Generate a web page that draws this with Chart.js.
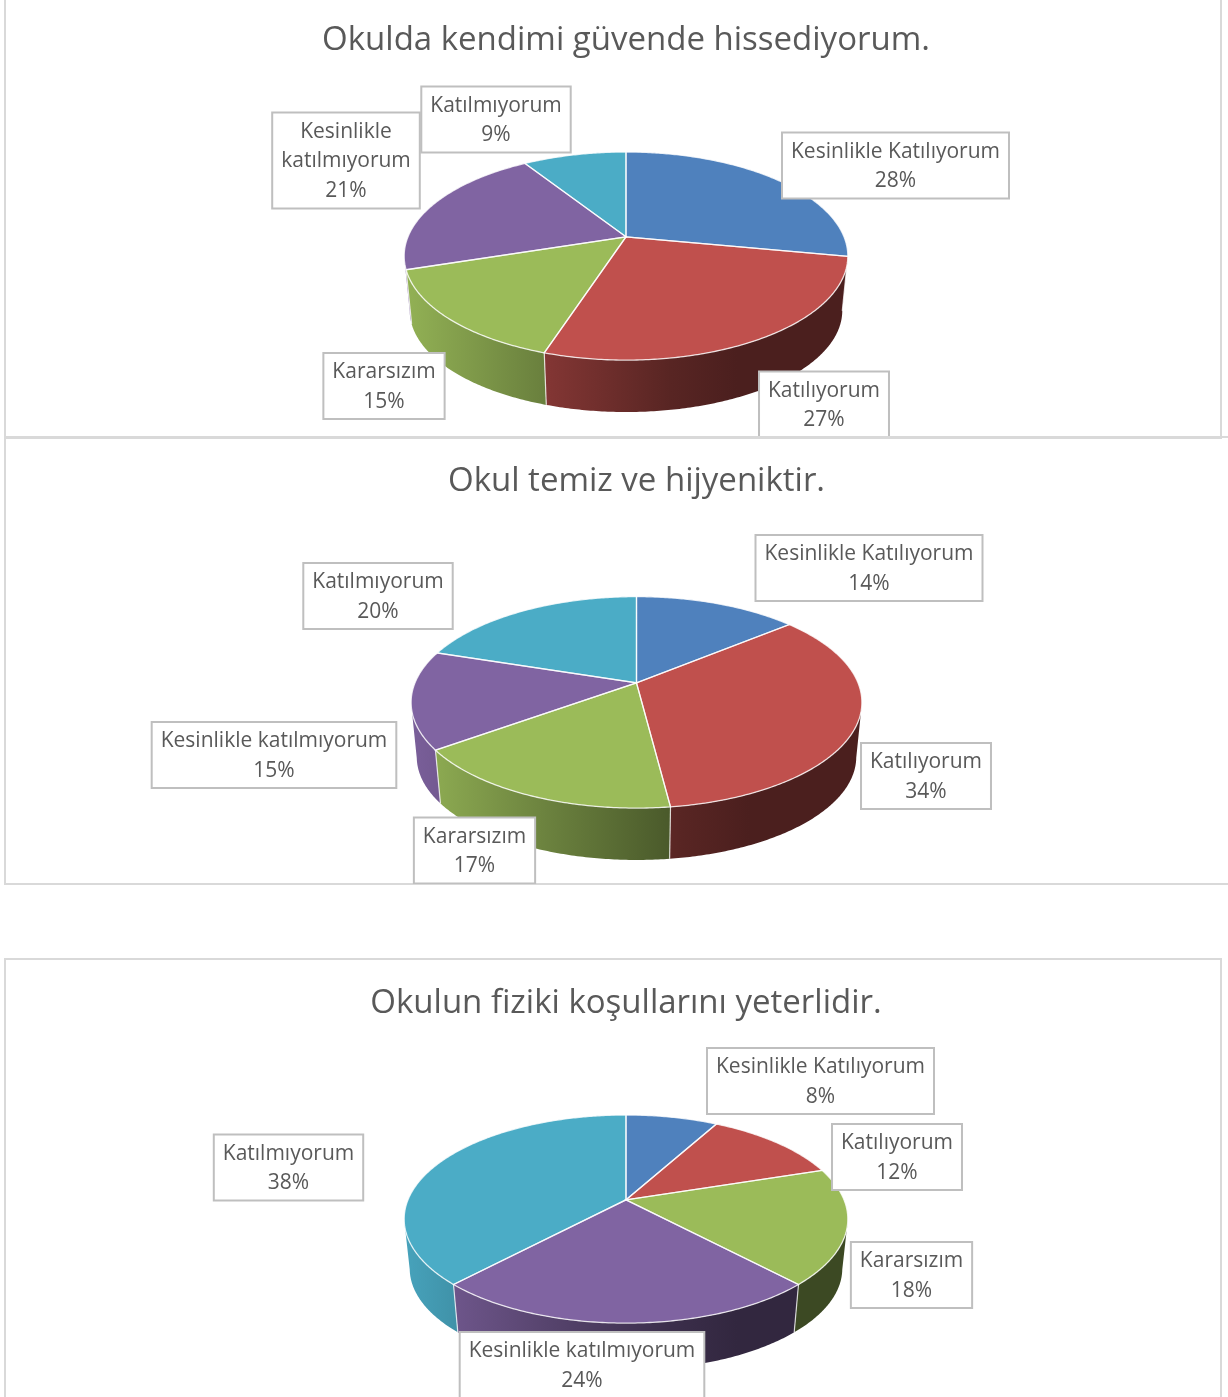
<!DOCTYPE html>
<html lang="tr">
<head>
<meta charset="utf-8">
<title>Okul anketi</title>
<script src="https://cdn.jsdelivr.net/npm/chart.js@4"></script>
<style>
    html, body { margin: 0; padding: 0; background: #fff; overflow: hidden; width: 1228px; height: 1397px; }
    .marco { position: absolute; box-sizing: border-box; border: 2px solid #d9d9d9; }
    canvas { position: absolute; }
</style>
</head>
<body>
<div class="marco" style="left:4px;top:-10px;width:1218px;height:449px"></div>
<div class="marco" style="left:4px;top:436px;width:1240px;height:449px"></div>
<div class="marco" style="left:4px;top:958px;width:1218px;height:460px"></div>
<canvas id="chart1" width="1215" height="439" style="left:5px;top:-3px"></canvas>
<canvas id="chart2" width="1231" height="446" style="left:5px;top:438px"></canvas>
<canvas id="chart3" width="1215" height="446" style="left:5px;top:960px"></canvas>
<script>
const categories = ['Kesinlikle Katılıyorum', 'Katılıyorum', 'Kararsızım', 'Kesinlikle katılmıyorum', 'Katılmıyorum'];
const colors = ['#4f81bd', '#c0504d', '#9bbb59', '#8064a2', '#4bacc6'];

const title1 = 'Okulda kendimi güvende hissediyorum.';
const values1 = [28, 27, 15, 21, 9];
const title2 = 'Okul temiz ve hijyeniktir.';
const values2 = [14, 34, 17, 15, 20];
const title3 = 'Okulun fiziki koşullarını yeterlidir.';
const values3 = [8, 12, 18, 24, 38];

// label box centres, page pixels (same order as categories)
const labelPos1 = [[895.5, 165.5], [824, 404.5], [384, 386], [346, 160.5], [496, 119.5]];
const labelPos2 = [[869, 568], [926, 776], [474.5, 850.5], [274, 755], [378, 596]];
const labelPos3 = [[820.5, 1081], [897, 1157], [911.5, 1275], [582, 1365], [288.5, 1167.5]];

const TILT = 0.461, PERSP = 0.185, BOTTOM_SCALE = 0.975;
const FONT = '"Open Sans", "Noto Sans", sans-serif';

function shade(hex, f) {
    const n = parseInt(hex.slice(1), 16);
    return `rgb(${Math.round((n >> 16) * f)},${Math.round(((n >> 8) & 255) * f)},${Math.round((n & 255) * f)})`;
}

// arc angle -> point on the tilted disc
function project(el, ang) {
    const u = Math.cos(ang), v = Math.sin(ang), w = 1 - PERSP * v;
    return { x: el.x + el.outerRadius * u / w, y: el.y + el.outerRadius * TILT * v / w };
}

const pie3d = {
    id: 'pie3d',
    beforeDatasetDraw(chart, args, opts) {
        const ctx = chart.ctx;
        const arcs = chart.getDatasetMeta(args.index).data;
        const first = arcs[0];
        const R = first.outerRadius;
        const midY = first.y + R * TILT * PERSP / (1 - PERSP * PERSP);
        const bottomOf = p => ({
            x: first.x + (p.x - first.x) * BOTTOM_SCALE,
            y: first.y + (p.y - first.y) * BOTTOM_SCALE + opts.depth
        });
        const left = first.x - R * 1.02, right = first.x + R * 1.02;

        // walls first, only the part facing us
        arcs.forEach((el, i) => {
            const base = el.options.backgroundColor;
            const rim = [];
            const steps = Math.ceil((el.endAngle - el.startAngle) * 90);
            for (let s = 0; s <= steps; s++) {
                const p = project(el, el.startAngle + (el.endAngle - el.startAngle) * s / steps);
                if (p.y >= midY) rim.push(p);
            }
            if (rim.length < 2) return;
            const g = ctx.createLinearGradient(left, 0, right, 0);
            g.addColorStop(0, shade(base, 0.95));
            g.addColorStop(0.32, shade(base, 0.68));
            g.addColorStop(0.6, shade(base, 0.46));
            g.addColorStop(0.75, shade(base, 0.39));
            g.addColorStop(1, shade(base, 0.39));
            ctx.beginPath();
            rim.forEach((p, j) => j ? ctx.lineTo(p.x, p.y) : ctx.moveTo(p.x, p.y));
            rim.slice().reverse().forEach(p => { const b = bottomOf(p); ctx.lineTo(b.x, b.y); });
            ctx.closePath();
            ctx.fillStyle = g;
            ctx.fill();
        });

        // white seams between the walls
        ctx.strokeStyle = 'rgba(255,255,255,0.75)';
        ctx.lineWidth = 1.2;
        arcs.forEach(el => {
            const p = project(el, el.endAngle);
            if (p.y < midY) return;
            const b = bottomOf(p);
            ctx.beginPath();
            ctx.moveTo(p.x, p.y);
            ctx.lineTo(b.x, b.y);
            ctx.stroke();
        });

        // top face
        arcs.forEach(el => {
            ctx.beginPath();
            ctx.moveTo(el.x, el.y);
            const steps = Math.ceil((el.endAngle - el.startAngle) * 90);
            for (let s = 0; s <= steps; s++) {
                const p = project(el, el.startAngle + (el.endAngle - el.startAngle) * s / steps);
                ctx.lineTo(p.x, p.y);
            }
            ctx.closePath();
            ctx.fillStyle = el.options.backgroundColor;
            ctx.fill();
        });
        arcs.forEach(el => {
            ctx.beginPath();
            ctx.moveTo(el.x, el.y);
            const steps = Math.ceil((el.endAngle - el.startAngle) * 90);
            for (let s = 0; s <= steps; s++) {
                const p = project(el, el.startAngle + (el.endAngle - el.startAngle) * s / steps);
                ctx.lineTo(p.x, p.y);
            }
            ctx.closePath();
            ctx.strokeStyle = 'rgba(255,255,255,0.8)';
            ctx.lineWidth = 1.3;
            ctx.stroke();
        });
        return false;
    },
    afterDatasetsDraw(chart, args, opts) {
        const ctx = chart.ctx;
        const vals = chart.data.datasets[0].data;
        ctx.save();
        ctx.font = `21px ${FONT}`;
        ctx.textAlign = 'center';
        ctx.textBaseline = 'middle';
        chart.data.labels.forEach((name, i) => {
            const lines = opts.wrap.includes(i) ? name.split(' ') : [name];
            lines.push(vals[i] + '%');
            const w = Math.max(...lines.map(l => ctx.measureText(l).width)) + 18;
            const h = lines.length * 30 + 6;
            const cx = opts.pos[i][0] - opts.left, cy = opts.pos[i][1] - opts.top;
            ctx.fillStyle = '#fff';
            ctx.fillRect(cx - w / 2, cy - h / 2, w, h);
            ctx.strokeStyle = '#bfbfbf';
            ctx.lineWidth = 2;
            ctx.strokeRect(cx - w / 2, cy - h / 2, w, h);
            ctx.fillStyle = '#595959';
            lines.forEach((l, j) => ctx.fillText(l, cx, cy + (j - (lines.length - 1) / 2) * 29.5 + 1));
        });
        ctx.restore();
    }
};

function pieChart(id, title, values, radius, depth, pad, left, top, pos, wrap) {
    return new Chart(document.getElementById(id), {
        type: 'pie',
        data: {
            labels: categories,
            datasets: [{ data: values, backgroundColor: colors, radius: radius, borderWidth: 0 }]
        },
        options: {
            responsive: false,
            animation: false,
            layout: { padding: pad },
            plugins: {
                legend: { display: false },
                tooltip: { enabled: false },
                title: {
                    display: true,
                    text: title,
                    color: '#595959',
                    font: { family: FONT, size: 33, weight: 'normal', lineHeight: 1.2 },
                    padding: { top: 24, bottom: 6 }
                },
                pie3d: { depth, left, top, pos, wrap }
            }
        },
        plugins: [pie3d]
    });
}

pieChart('chart1', title1, values1, 218, 55, { left: 27, right: 0, top: 0, bottom: 29 }, 5, -3, labelPos1, [3]);
pieChart('chart2', title2, values2, 221.5, 55, { left: 32, right: 0, top: 0, bottom: 26 }, 5, 438, labelPos2, []);
pieChart('chart3', title3, values3, 218, 50, { left: 27, right: 0, top: 0, bottom: 36 }, 5, 960, labelPos3, []);
</script>
</body>
</html>
